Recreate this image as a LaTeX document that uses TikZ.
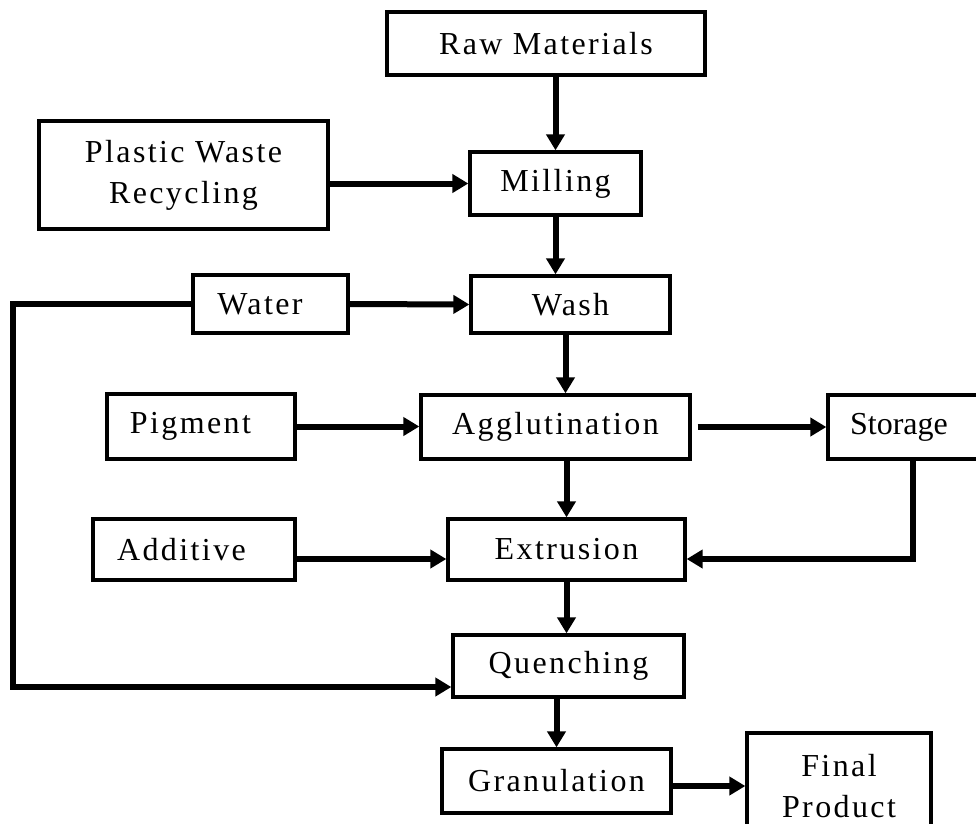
\documentclass[tikz,border=0pt]{standalone}
\usepackage{fontspec}
\setmainfont{Liberation Serif}[LetterSpace=7.5]
\usepackage{tikz}
\usetikzlibrary{arrows.meta, positioning}

\begin{document}
\begin{tikzpicture}[
    x=1pt, y=-1pt,
    every node/.style={font=\fontsize{32}{41}\selectfont},
    proc/.style={rectangle, draw, line width=3.3pt, inner sep=0pt, align=center},
    flow/.style={draw, line width=6pt, -{Triangle[length=16pt, width=18pt]}}
  ]
  \useasboundingbox (0,0) rectangle (976,823);

  \node[proc, minimum width=318, minimum height=63] (raw) at (546,43.5) {Raw Materials};
  \node[proc, minimum width=289, minimum height=108] (plastic) at (183.5,175) {Plastic Waste\\Recycling};
  \node[proc, minimum width=171, minimum height=63] (milling) at (555.5,183.5) {Milling};
  \node[proc, minimum width=155, minimum height=58] (water) at (270.5,304) {Water\hspace*{21pt}};
  \node[proc, minimum width=199, minimum height=57] (wash) at (570.5,304.5) {Wash};
  \node[proc, minimum width=188, minimum height=65] (pigment) at (201,426.5) {Pigment\hspace*{21pt}};
  \node[proc, minimum width=269, minimum height=64] (aggl) at (555.5,427) {Agglutination};
  \node[proc, minimum width=170, minimum height=64] (storage) at (913,427) {\addfontfeatures{LetterSpace=0}Storage\hspace*{28pt}};
  \node[proc, minimum width=202, minimum height=61] (additive) at (194,549.5) {Additive\hspace*{25pt}};
  \node[proc, minimum width=237, minimum height=61] (extrusion) at (566.5,549.5) {Extrusion};
  \node[proc, minimum width=231, minimum height=62] (quench) at (568.5,666) {Quenching};
  \node[proc, minimum width=229, minimum height=64] (gran) at (556.5,781) {Granulation};
  \node[proc, minimum width=184, minimum height=106] (final) at (839,786) {Final\\Product};

  \coordinate (loop) at (13,304);

  % main line
  \draw[flow] (raw.south -| milling.north) -- (milling.north);
  \draw[flow] (milling.south) -- (milling.south |- wash.north);
  \draw[flow] ([xshift=-5pt]wash.south) -- ([xshift=-5pt]wash.south |- aggl.north);
  \draw[flow] (aggl.south -| extrusion.north) -- (extrusion.north);
  \draw[flow] (extrusion.south) -- (extrusion.south |- quench.north);
  \draw[flow] (quench.south -| gran.north) -- (gran.north);
  \draw[flow] (gran.east |- final.west) -- (final.west);

  % side inputs
  \draw[flow] (plastic.east |- milling.west) -- (milling.west);
  \draw[flow] (water.east) -- (wash.west);
  \draw[flow] (pigment.east) -- (pigment.east -| aggl.west);
  \draw[flow, shorten <=6pt] (aggl.east) -- (aggl.east -| storage.west);
  \draw[flow] ([yshift=-9.5pt]additive.east) -- ([yshift=-9.5pt]additive.east -| extrusion.west);
  \draw[flow] (storage.south) |- ([yshift=-9.5pt]extrusion.east);
  \draw[flow] (water.west) -- (loop) |- ([yshift=-21pt]quench.west);
\end{tikzpicture}
\end{document}
